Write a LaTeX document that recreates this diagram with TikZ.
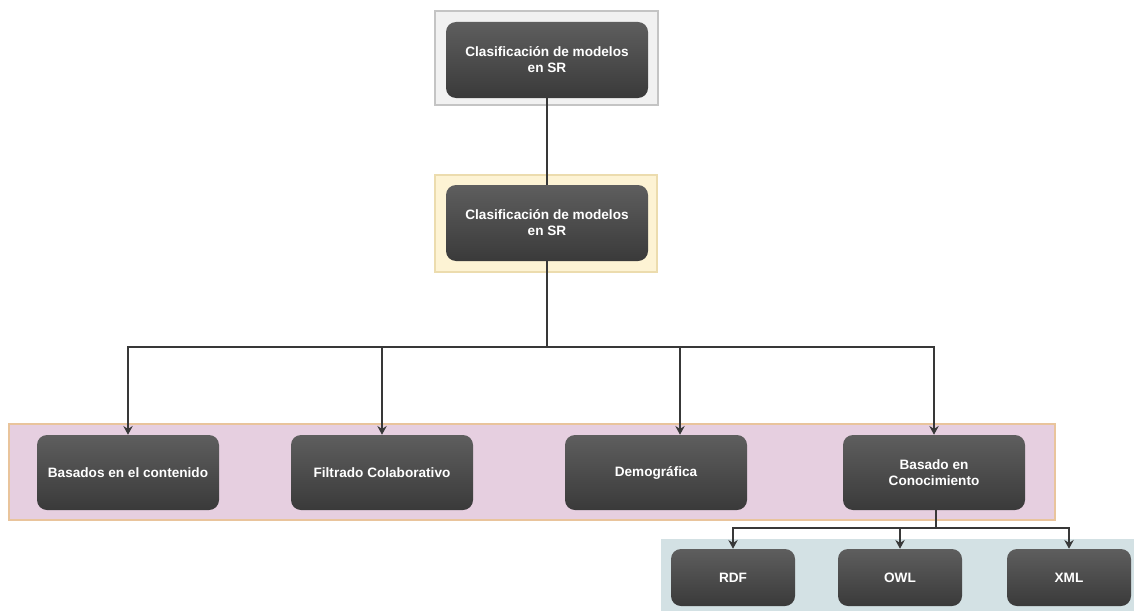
\documentclass[tikz,border=0pt]{standalone}
\usepackage{fontspec}
\setmainfont{Liberation Sans}
\usetikzlibrary{arrows.meta}
\definecolor{nodetop}{HTML}{5E5E5E}
\definecolor{nodebot}{HTML}{3A3A3A}
\definecolor{grayfill}{HTML}{F1F1F1}
\definecolor{graybord}{HTML}{C4C4C4}
\definecolor{yelfill}{HTML}{FDF3D4}
\definecolor{yelbord}{HTML}{ECDCAE}
\definecolor{pinkfill}{HTML}{E6CFE0}
\definecolor{pinkbord}{HTML}{E9C49C}
\definecolor{bluefill}{HTML}{D3E1E4}
\definecolor{linec}{HTML}{383838}
\tikzset{
  box/.style={rounded corners=7.5pt, top color=nodetop, bottom color=nodebot,
    draw=none, text=white, font=\bfseries\fontsize{10.2}{12}\selectfont,
    align=center, inner sep=0pt},
  bigbox/.style={box, minimum width=136.5pt, minimum height=56.25pt},
  smallbox/.style={box, minimum width=93pt, minimum height=42.75pt},
  conn/.style={draw=linec, line width=1.5pt},
  arr/.style={conn, -{Stealth[length=6.5pt,width=7pt]}},
}
\begin{document}
\begin{tikzpicture}[x=0.75pt,y=-0.75pt]
\useasboundingbox (0,0) rectangle (1134,610);
% background panels
\fill[grayfill, draw=graybord, line width=0.8pt] (435,11) rectangle (658,105);
\fill[yelfill, draw=yelbord, line width=0.8pt] (435,175) rectangle (657,272);
\fill[pinkfill, draw=pinkbord, line width=0.8pt] (9,424) rectangle (1055,520);
\fill[bluefill] (661,539) rectangle (1140,615);
% nodes
\node[box, minimum width=151.5pt, minimum height=57pt] (top) at (547,60) {Clasificación de modelos\\en SR};
\node[box, minimum width=151.5pt, minimum height=57pt] (mid) at (547,223) {Clasificación de modelos\\en SR};
\node[bigbox] (n1) at (128,472.5) {Basados en el contenido};
\node[bigbox] (n2) at (382,472.5) {Filtrado Colaborativo};
\node[bigbox] (n3) at (656,472.5) {Demográfica};
\node[bigbox] (n4) at (934,472.5) {Basado en\\Conocimiento};
\node[smallbox] (rdf) at (733,577.5) {RDF};
\node[smallbox] (owl) at (900,577.5) {OWL};
\node[smallbox] (xml) at (1069,577.5) {XML};
% connectors
\coordinate (j) at (547,347);
\coordinate (k) at (936,528);
\draw[conn] (top) -- (mid);
\draw[conn] (mid.south) -- (j);
\draw[arr] (j) -| (n1.north);
\draw[arr] (j) -| (n2.north);
\draw[arr] (j) -| ([xshift=18pt]n3.north);
\draw[arr] (j) -| (n4.north);
\draw[conn] (n4.south -| k) -- (k);
\draw[arr] (k) -| (rdf.north);
\draw[arr] (k) -| (owl.north);
\draw[arr] (k) -| (xml.north);
\end{tikzpicture}
\end{document}
